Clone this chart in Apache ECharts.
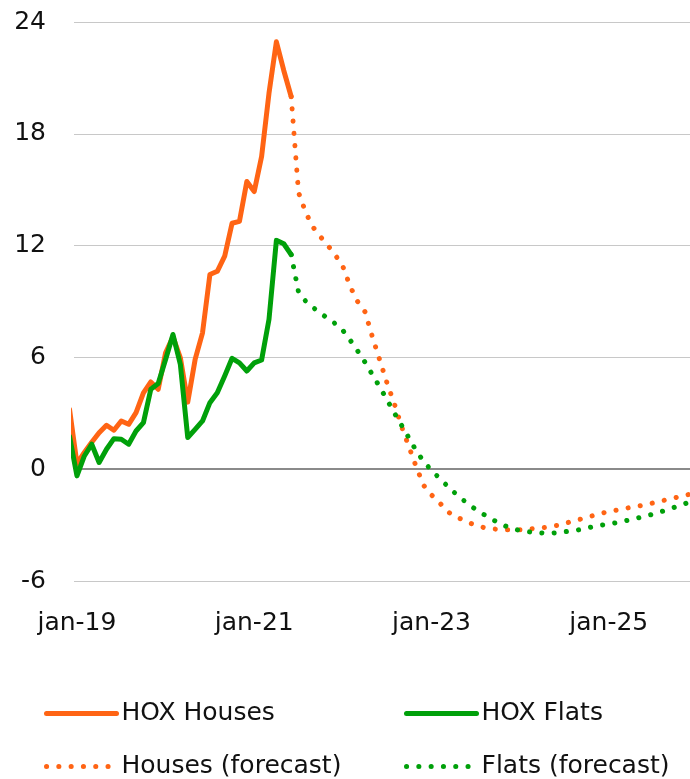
<!DOCTYPE html>
<html>
<head>
<meta charset="utf-8">
<script src="https://cdn.jsdelivr.net/npm/echarts@6/dist/echarts.min.js"></script>
<style>
html,body{margin:0;padding:0;background:#fff;}
#chart{width:690px;height:779px;}
</style>
</head>
<body>
<div id="chart"></div>
<script>
// month index 0 = jan-19; actual series start at index -1 (dec-18)
const actualStartIndex = -1;
const forecastStartIndex = 29; // jun-21
const xTickMonths = [0, 24, 48, 72];
const xTickLabels = ['jan-19', 'jan-21', 'jan-23', 'jan-25'];
const yTicks = [-6, 0, 6, 12, 18, 24];

const housesActual = [3.2, 0.3, 0.9, 1.45, 1.96, 2.36, 2.09, 2.59, 2.41, 3.04, 4.1, 4.68, 4.29, 6.25, 7.1, 5.98,
  3.6, 5.89, 7.32, 10.45, 10.62, 11.43, 13.2, 13.3, 15.44, 14.9, 16.78, 20.18, 22.94, 21.4, 20.0];
const flatsActual = [1.76, -0.36, 0.71, 1.34, 0.36, 1.07, 1.64, 1.61, 1.34, 2.05, 2.5, 4.29, 4.6, 5.89, 7.23, 5.62,
  1.70, 2.14, 2.59, 3.57, 4.1, 5.0, 5.95, 5.71, 5.27, 5.71, 5.86, 8.04, 12.28, 12.1, 11.52];
const housesForecast = [20.0, 14.85, 13.75, 12.97, 12.46, 11.99, 11.48, 10.88, 9.8, 9.0, 8.45,
  7.1, 5.85, 4.6, 3.48, 2.23, 1.15, 0.05, -0.9, -1.38, -1.76,
  -2.2, -2.53, -2.67, -2.87, -3.0, -3.12, -3.19, -3.23, -3.25, -3.25,
  -3.25, -3.21, -3.18, -3.14, -3.09, -3.02, -2.92, -2.8, -2.7, -2.59,
  -2.48, -2.37, -2.27, -2.2, -2.12, -2.05, -1.98, -1.9, -1.81, -1.72,
  -1.62, -1.53, -1.43, -1.34];
const flatsForecast = [11.52, 9.5, 9.0, 8.67, 8.35, 8.1, 7.8, 7.45, 6.92, 6.35, 5.74,
  5.07, 4.41, 3.71, 3.0, 2.32, 1.64, 0.94, 0.39, -0.07, -0.45,
  -0.84, -1.22, -1.56, -1.88, -2.16, -2.41, -2.65, -2.86, -3.05, -3.2,
  -3.29, -3.35, -3.4, -3.42, -3.43, -3.41, -3.36, -3.31, -3.25, -3.16,
  -3.08, -3.0, -2.95, -2.87, -2.79, -2.71, -2.61, -2.52, -2.41, -2.29,
  -2.17, -2.03, -1.9, -1.75];

const ORANGE = '#FF6414';
const GREEN = '#00A00A';
const FONT = 'DejaVu Sans';

function pairs(start, arr) { return arr.map((v, i) => [start + i, v]); }

const dotted = [0.1, 12.2];

function legendFor(name, left, top, color, type) {
  return {
    show: true,
    data: [{ name: name,
      itemStyle: { color: 'rgba(0,0,0,0)', borderWidth: 0, opacity: 0 },
      lineStyle: { color: color, width: 5, type: type, cap: 'round', opacity: 1 } }],
    left: left, top: top, orient: 'horizontal',
    itemWidth: 70, itemHeight: 14, padding: 0,
    selectedMode: false,
    textStyle: { fontFamily: FONT, fontSize: 25, color: '#111' }
  };
}

const chart = echarts.init(document.getElementById('chart'), null, { renderer: 'canvas' });
chart.setOption({
  animation: false,
  backgroundColor: '#fff',
  grid: { left: 74, right: 0, top: 22, bottom: 198, containLabel: false },
  xAxis: {
    type: 'value', min: -0.4, max: 83,
    axisLine: { show: false }, axisTick: { show: false }, splitLine: { show: false },
    axisLabel: {
      customValues: xTickMonths,
      formatter: v => xTickLabels[xTickMonths.indexOf(Math.round(v))] || '',
      fontFamily: FONT, fontSize: 25, color: '#111', margin: 30
    }
  },
  yAxis: {
    type: 'value', min: -6, max: 24, interval: 6,
    axisLine: { show: false }, axisTick: { show: false },
    splitLine: { lineStyle: { color: '#c8c8c8', width: 1 } },
    axisLabel: { fontFamily: FONT, fontSize: 25, color: '#111', margin: 28 }
  },
  legend: [
    legendFor('HOX Houses', 44, 701, ORANGE, 'solid'),
    legendFor('HOX Flats', 404, 701, GREEN, 'solid'),
    legendFor('Houses (forecast)', 44, 754, ORANGE, dotted),
    legendFor('Flats (forecast)', 404, 754, GREEN, dotted)
  ],
  series: [
    {
      name: 'HOX Houses', type: 'line', data: pairs(actualStartIndex, housesActual),
      symbol: 'none', lineStyle: { color: ORANGE, width: 5, join: 'round', cap: 'round' },
      itemStyle: { color: ORANGE }, z: 3,
      markLine: {
        silent: true, symbol: 'none', animation: false,
        label: { show: false },
        lineStyle: { color: '#8a8a8a', width: 2, type: 'solid' },
        data: [{ yAxis: 0 }], z: 1
      }
    },
    {
      name: 'HOX Flats', type: 'line', data: pairs(actualStartIndex, flatsActual),
      symbol: 'none', lineStyle: { color: GREEN, width: 5, join: 'round', cap: 'round' },
      itemStyle: { color: GREEN }, z: 4
    },
    {
      name: 'Houses (forecast)', type: 'line', data: pairs(forecastStartIndex, housesForecast),
      symbol: 'none', lineStyle: { color: ORANGE, width: 5, type: dotted, cap: 'round' },
      itemStyle: { color: ORANGE }, z: 3
    },
    {
      name: 'Flats (forecast)', type: 'line', data: pairs(forecastStartIndex, flatsForecast),
      symbol: 'none', lineStyle: { color: GREEN, width: 5, type: dotted, cap: 'round' },
      itemStyle: { color: GREEN }, z: 4
    }
  ]
});
</script>
</body>
</html>
